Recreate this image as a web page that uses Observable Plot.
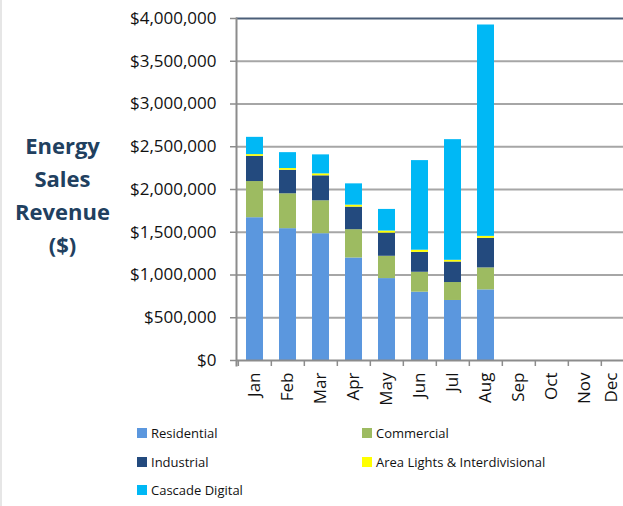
<!DOCTYPE html>
<html>
<head>
<meta charset="utf-8">
<script src="https://cdn.jsdelivr.net/npm/d3@7"></script>
<script src="https://cdn.jsdelivr.net/npm/@observablehq/plot@0.6"></script>
<style>
  html, body { margin: 0; padding: 0; background: white; overflow: hidden; }
  body { font-family: "Open Sans", sans-serif; width: 623px; height: 506px; position: relative; }
  #chart { position: absolute; left: 0; top: 0; }
  #edge { position: absolute; left: 0; top: 0; width: 2px; height: 506px; background: #E6E6E6; }
  .lg { position: absolute; display: flex; align-items: center; height: 16px; font-size: 13px; color: #111; white-space: nowrap; }
  .lg span.sw { display: inline-block; width: 10px; height: 10px; margin-right: 4px; }
</style>
</head>
<body>
<div id="chart"></div>
<div id="edge"></div>
<div id="legend"></div>
<script>
const months = ["Jan","Feb","Mar","Apr","May","Jun","Jul","Aug","Sep","Oct","Nov","Dec"];
const series = ["Residential","Commercial","Industrial","Area Lights & Interdivisional","Cascade Digital"];
const colors = ["#5B97DE","#9DBB61","#234A7E","#FFFF00","#00B8F5"];
// values in dollars, Jan..Aug (Sep..Dec empty)
const residential = [1670000,1542000,1483000,1199000,958000,799000,702000,826000];
const commercial  = [ 423000, 408000, 385000, 331000,261000,233000,210000,257000];
const industrial  = [ 295000, 275000, 292000, 264000,271000,233000,240000,346000];
const areaLights  = [  20000,  20000,  23000,  23000, 24000, 25000, 20000, 23000];
const cascade     = [ 202000, 186000, 222000, 249000,253000,1048000,1411000,2472000];
const yTicks = [0,500000,1000000,1500000,2000000,2500000,3000000,3500000,4000000];

const seriesValues = [residential, commercial, industrial, areaLights, cascade];
const rows = [];
series.forEach((s, i) => {
  seriesValues[i].forEach((v, j) => rows.push({month: months[j], series: s, value: v}));
});

const W = 623, ML = 236, MR = -13;
const step = (W - MR - ML) / months.length;

const plot = Plot.plot({
  width: W,
  height: 412,
  marginLeft: ML,
  marginRight: MR,
  marginTop: 18,
  marginBottom: 52,
  style: {fontFamily: "Open Sans, sans-serif", fontSize: "17px", color: "#111", background: "white"},
  x: {domain: months, paddingInner: 0.48, paddingOuter: 0.24, label: null},
  y: {domain: [0, 4000000], label: null},
  color: {domain: series, range: colors},
  marks: [
    Plot.ruleY(yTicks.filter(d => d > 0 && d < 4000000), {stroke: "#A6A6A6", strokeWidth: 2}),
    Plot.ruleY([4000000], {stroke: "#4B5E78", strokeWidth: 2}),
    Plot.barY(rows, {x: "month", y: "value", fill: "series"}),
    Plot.ruleY([0], {stroke: "#8C8C8C", strokeWidth: 2}),
    Plot.ruleX(months, {x: d => d, dx: -step / 2, y1: 0, y2: 0, insetBottom: -6, stroke: "#8C8C8C", strokeWidth: 1.5}),
    Plot.frame({anchor: "left", stroke: "#8C8C8C", strokeWidth: 2, insetBottom: -5}),
    Plot.axisY({ticks: yTicks, tickFormat: d3.format("$,"), tickSize: 6, tickPadding: 14, stroke: "#8C8C8C", strokeWidth: 1.5, fontSize: 17}),
    Plot.axisX({ticks: months.slice(0, 11), tickRotate: -90, tickSize: 0, tickPadding: 12, fontSize: 17}),
    Plot.axisX({ticks: months.slice(11), tickRotate: -90, tickSize: 0, tickPadding: 12, fontSize: 17, dx: -6}),
    Plot.text(["Energy\nSales\nRevenue\n($)"], {frameAnchor: "left", dx: -174, dy: 3, lineHeight: 1.5, fontSize: 22, fontWeight: "bold", fill: "#21405F", textAnchor: "middle"})
  ]
});
document.getElementById("chart").appendChild(plot);

// legend
const legendPos = [
  {x: 137, y: 433}, {x: 362, y: 433},
  {x: 137, y: 462}, {x: 362, y: 462},
  {x: 137, y: 490}
];
const lg = document.getElementById("legend");
series.forEach((s, i) => {
  const d = document.createElement("div");
  d.className = "lg";
  d.style.left = legendPos[i].x + "px";
  d.style.top = (legendPos[i].y - 8) + "px";
  const sw = document.createElement("span");
  sw.className = "sw";
  sw.style.background = colors[i];
  d.appendChild(sw);
  d.appendChild(document.createTextNode(s));
  lg.appendChild(d);
});
</script>
</body>
</html>
